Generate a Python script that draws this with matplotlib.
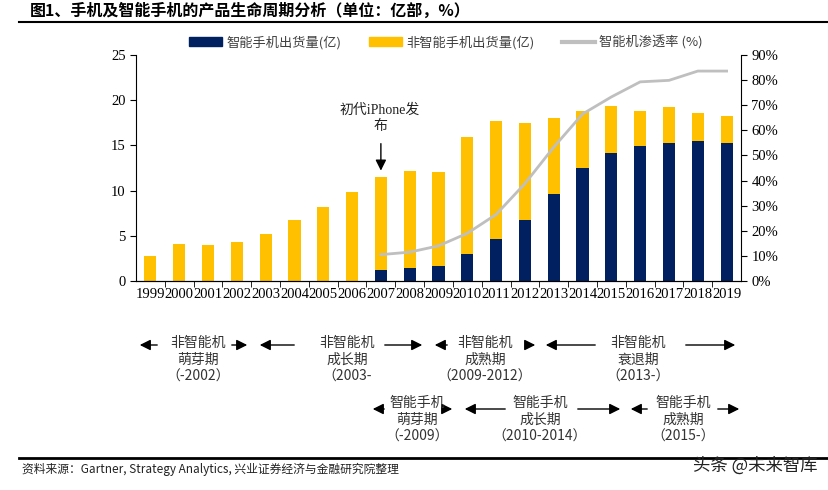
import matplotlib
matplotlib.use("Agg")
import matplotlib.pyplot as plt
from matplotlib.lines import Line2D
from matplotlib.patches import Patch, FancyArrowPatch

plt.rcParams['font.family'] = ['Noto Sans CJK SC', 'DejaVu Sans']

# data
years = [str(y) for y in range(1999, 2020)]
smart = [0, 0, 0, 0, 0, 0, 0, 0, 1.2, 1.4, 1.7, 3.0, 4.7, 6.8, 9.6,
         12.45, 14.2, 14.95, 15.3, 15.5, 15.3]
non_smart = [2.8, 4.1, 3.95, 4.3, 5.2, 6.7, 8.15, 9.9, 10.3, 10.8, 10.4,
             12.95, 13.05, 10.65, 8.45, 6.3, 5.2, 3.85, 3.9, 3.05, 3.0]
pen_years = [str(y) for y in range(2007, 2020)]
penetration = [10.5, 11.5, 14.0, 19.0, 26.5, 38.8, 53.3, 66.5, 73.3,
               79.3, 79.9, 83.6, 83.6]

phase_labels = ['非智能机\n萌芽期\n（-2002）', '非智能机\n成长期\n（2003-',
                '非智能机\n成熟期\n（2009-2012）', '非智能机\n衰退期\n（2013-）',
                '智能手机\n萌芽期\n（-2009）', '智能手机\n成长期\n（2010-2014）',
                '智能手机\n成熟期\n（2015-）']
# layout of the phase blocks, in pixels: text centre x, centre y, left arrow (tip, start), right arrow (start, tip), arrow y
phase_layout = [
    (198, 360, 137, 160, 229, 250, 345),
    (347, 360, 257, 297, 382, 425, 345),
    (485, 360, 432, 450, 528, 538, 345),
    (638, 360, 543, 598, 683, 738, 345),
    (417, 420, 370, 387, 443, 455, 409),
    (540, 420, 462, 508, 575, 623, 409),
    (683, 420, 628, 650, 715, 742, 409),
]

W, H = 829, 490
fig = plt.figure(figsize=(W / 100, H / 100), dpi=100)
ax = fig.add_axes([136 / W, 1 - 281 / H, (741 - 136) / W, (281 - 55) / H])

navy = '#002060'
gold = '#FFC000'
gray = '#BFBFBF'
serif = ['Liberation Serif', 'Noto Sans CJK SC']

x = list(range(len(years)))
ax.bar(x, smart, width=0.42, color=navy, zorder=2)
ax.bar(x, non_smart, width=0.42, bottom=smart, color=gold, zorder=2)
ax.set_xlim(-0.5, len(years) - 0.5)
ax.set_ylim(0, 25)
ax.set_yticks([0, 5, 10, 15, 20, 25])
ax.set_xticks(x)
ax.set_xticklabels(years, family=serif, fontsize=10.5)
ax.set_xticks([i + 0.5 for i in x[:-1]], minor=True)
ax.tick_params(axis='x', which='major', length=0, pad=5)
ax.tick_params(axis='x', which='minor', length=4, direction='out')
ax.tick_params(axis='y', direction='out', length=4, labelsize=10.5)
for lab in ax.get_yticklabels():
    lab.set_family(serif)
ax.spines['top'].set_visible(False)
ax.spines['right'].set_visible(False)

ax2 = ax.twinx()
px = [years.index(y) for y in pen_years]
ax2.plot(px, penetration, color=gray, lw=2, zorder=3)
ax2.set_ylim(0, 90)
ax2.set_yticks(range(0, 91, 10))
ax2.set_yticklabels([f'{v}%' for v in range(0, 91, 10)], family=serif, fontsize=10.5)
ax2.tick_params(axis='y', direction='out', length=4)
ax2.spines['top'].set_visible(False)
ax2.spines['left'].set_visible(False)

# iPhone annotation
ax.annotate('', xy=(8, 11.9), xytext=(8, 15.5),
            arrowprops=dict(arrowstyle='-|>', color='black', lw=1, mutation_scale=16))
fig.text(380 / W, 1 - 118 / H, '初代iPhone发\n布', family=serif, fontsize=10,
         ha='center', va='center', linespacing=1.3, color='#222222')

# legend
handles = [Patch(color=navy), Patch(color=gold), Line2D([], [], color=gray, lw=3)]
fig.legend(handles, ['智能手机出货量(亿)', '非智能手机出货量(亿)', '智能机渗透率 (%)'],
           loc='center', bbox_to_anchor=(446 / W, 1 - 42 / H), ncol=3, frameon=False,
           fontsize=9.5, handlelength=2.5, handleheight=0.6, handletextpad=0.3,
           columnspacing=2.1, labelcolor='#404040')

# title and rules
fig.text(30 / W, 1 - 11 / H, '图1、手机及智能手机的产品生命周期分析（单位：亿部，%）',
         fontsize=11.5, fontweight='bold', va='center', ha='left')
fig.add_artist(Line2D([19 / W, 1], [1 - 22 / H] * 2, color='black', lw=1.5))
fig.add_artist(Line2D([19 / W, 1], [1 - 458 / H] * 2, color='black', lw=2))

# life cycle phases
for label, (cx, cy, lt, ls, rs, rt, ay) in zip(phase_labels, phase_layout):
    fig.text(cx / W, 1 - cy / H, label, ha='center', va='center', fontsize=10,
             linespacing=1.25, color='#333333')
    for tail, tip in ((ls, lt), (rs, rt)):
        fig.add_artist(FancyArrowPatch(
            (tail / W, 1 - ay / H), (tip / W, 1 - ay / H), transform=fig.transFigure,
            arrowstyle='-|>', color='black', lw=1, mutation_scale=16))

fig.text(22 / W, 1 - 469 / H, '资料来源：Gartner, Strategy Analytics, 兴业证券经济与金融研究院整理',
         fontsize=8.5, va='center', ha='left', color='#222222')
fig.text(818 / W, 1 - 466 / H, '头条 @未来智库', fontsize=12.5, va='center', ha='right',
         color='#222222')

fig.savefig('out.png', dpi=100)
